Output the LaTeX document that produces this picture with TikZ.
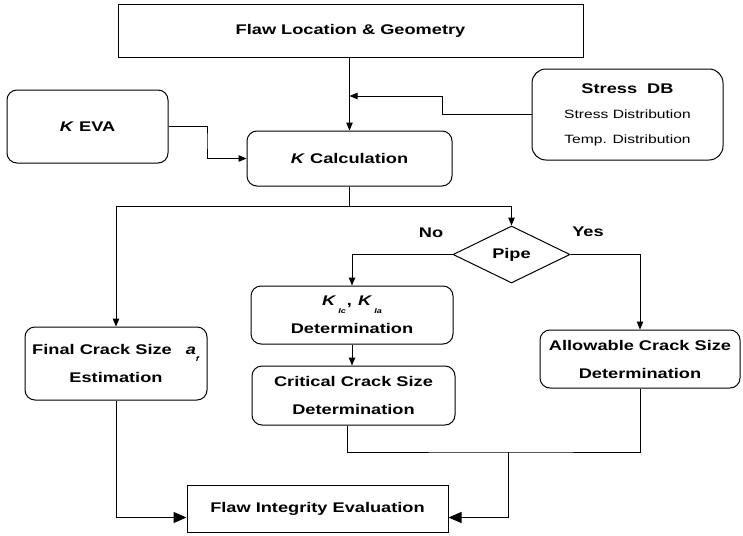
\documentclass[tikz,border=0pt]{standalone}
\usepackage{fontspec}
\newfontfamily\lab{Liberation Sans}[FakeStretch=1.3]
\usetikzlibrary{arrows.meta,shapes.geometric}
\begin{document}
\begin{tikzpicture}[x=1pt,y=-1pt,line width=1pt,
  every node/.style={font=\lab\bfseries\fontsize{14}{28}\selectfont, inner sep=0pt},
  sq/.style={draw, rectangle, line width=1pt},
  rbox/.style={draw, rounded corners=10pt, line width=1pt},
  arr/.style={-{Triangle[length=8pt,width=6.5pt]}},
  bigarr/.style={-{Triangle[length=13pt,width=11pt]}}]
\fill[white] (0,0) rectangle (743,535);
\useasboundingbox (0,0) rectangle (743,535);

\node[sq, minimum width=465pt, minimum height=52pt] (flaw) at (350.5,31) {Flaw Location \& Geometry};
\node[rbox, minimum width=161pt, minimum height=73pt] (keva) at (87.5,126.5) {\textit{K} EVA};
\node[rbox, minimum width=205pt, minimum height=55pt] (kcalc) at (349.5,158.5) {\textit{K} Calculation};
\node[rbox, rounded corners=14pt, minimum width=191pt, minimum height=91pt, align=center,
      font=\lab\fontsize{12}{25}\selectfont] (sdb) at (627.5,114.5)
  {{\bfseries\fontsize{14}{25}\selectfont Stress~~DB}\\Stress Distribution\\Temp. Distribution};

\node[draw, diamond, aspect=2, line width=1pt, minimum width=117pt, minimum height=57pt] (pipe) at (511.5,254.5) {Pipe};
\node (no) at (431,233) {No};
\node (yes) at (588,232) {Yes};

\node[rbox, minimum width=202pt, minimum height=58pt, align=center] (kic) at (352,315)
  {\textit{K}\kern2pt\raisebox{-8pt}{\fontsize{7}{8}\selectfont\textit{Ic}}\kern1pt,\kern6pt\textit{K}\kern2pt\raisebox{-8pt}{\fontsize{7}{8}\selectfont\textit{Ia}}\\Determination};
\node[rbox, minimum width=203pt, minimum height=59pt, align=center] (crit) at (353.5,395.5)
  {Critical Crack Size\\Determination};
\node[rbox, minimum width=200pt, minimum height=58pt, align=center] (allow) at (640,359)
  {Allowable Crack Size\\Determination};
\node[rbox, minimum width=182pt, minimum height=73pt, align=center] (final) at (116,363.5)
  {Final Crack Size\hspace{14pt}\textit{a}\raisebox{-7pt}{\fontsize{7}{8}\selectfont\textit{f}}\\Estimation};
\node[sq, minimum width=261pt, minimum height=47pt] (fie) at (317.5,508.5) {Flaw Integrity Evaluation};

% connectors
\draw[arr] (kcalc.north |- flaw.south) -- (kcalc.north);
\coordinate (sbend) at (442,96);
\draw[arr] (sdb.west) -| (sbend) -- (sbend -| kcalc.north);
\coordinate (kbend) at (207,140);
\draw[arr] (keva.east) -| (kbend) |- (kcalc.west);

\coordinate (split) at (350,206);
\draw (kcalc.south) -- (kcalc.south |- split);
\draw[arr] (kcalc.south |- split) -| (final.north);
\draw[arr] (kcalc.south |- split) -| (pipe.north);

\draw[arr] (pipe.west) -| (kic.north);
\draw[arr] (pipe.east) -| (allow.north);
\draw[arr] (kic.south) -- (kic.south |- crit.north);

\coordinate (mrg) at (508,452);
\draw ([xshift=-6pt]crit.south) |- (mrg) -| (allow.south);
\draw[bigarr] (mrg) |- ([yshift=-9pt]fie.east);
\draw[bigarr] (final.south) |- ([yshift=-9pt]fie.west);
\end{tikzpicture}
\end{document}
